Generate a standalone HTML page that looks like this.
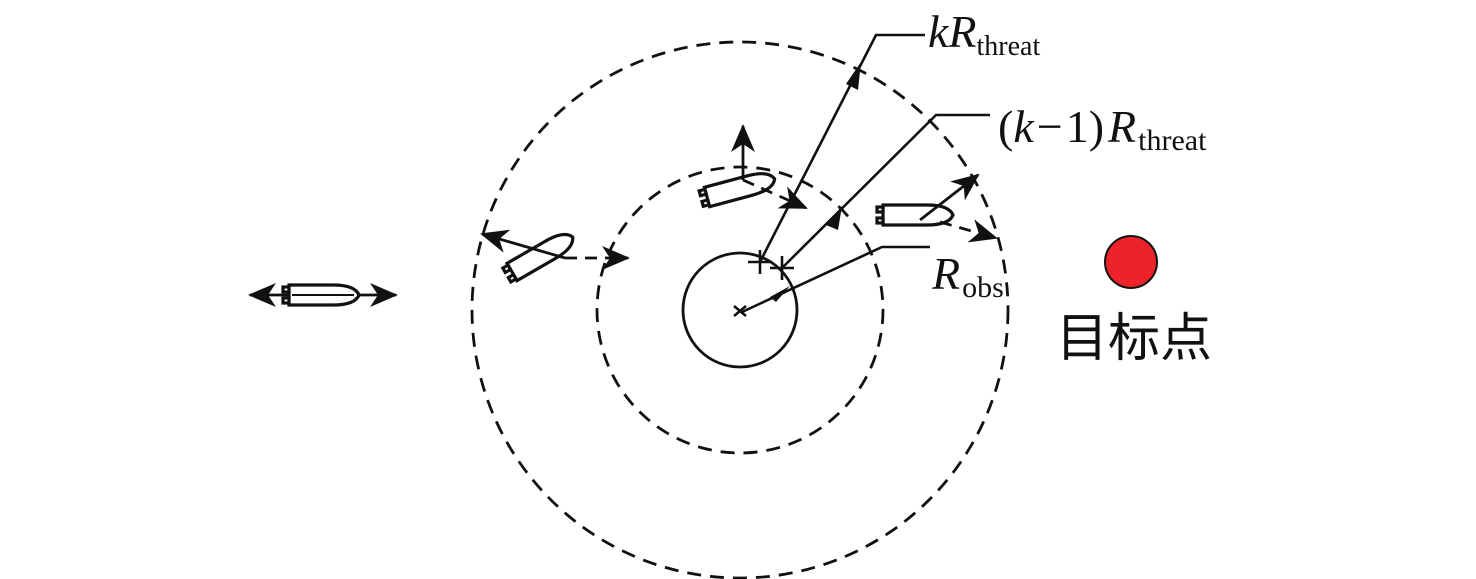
<!DOCTYPE html>
<html><head><meta charset="utf-8"><style>body{margin:0;background:#fff}svg{display:block}</style></head><body>
<svg width="1476" height="579" viewBox="0 0 1476 579" xmlns="http://www.w3.org/2000/svg">
<defs>
<marker id="b" markerWidth="28" markerHeight="24" refX="26" refY="12" orient="auto-start-reverse" markerUnits="userSpaceOnUse" viewBox="0 0 28 24"><path d="M0,0 L28,12 L0,24 L8,12z" fill="#111"/></marker>
<g id="ship" fill="#fff" stroke="#111" stroke-width="3.2">
<path d="M0,-10 L44,-10 Q66,-10 70,0 Q66,10 44,10 L0,10 Z"/>
<rect x="-6" y="-8" width="6" height="5"/><rect x="-6" y="3" width="6" height="5"/>
</g>
</defs>
<g fill="none" stroke="#111" stroke-width="2.8">
<circle cx="740" cy="310" r="57"/>
<circle cx="740" cy="310" r="143" stroke-dasharray="14,9"/>
<circle cx="740" cy="310" r="268" stroke-dasharray="14,9"/>
</g>
<g stroke="#111" stroke-width="2.6" fill="none">
<polyline points="760,262 876,35 925,35"/>
<polyline points="782,268 936,115 990,115"/>
<polyline points="742,312 882,247 930,247"/>
</g>
<path d="M846,84 L861,62 L858,90z" fill="#111"/>
<path d="M826,225 L842,206 L838,230z" fill="#111"/>
<path d="M770,297 L790,286 L776,302z" fill="#111"/>
<g stroke="#111" stroke-width="2.6">
<line x1="760" y1="250" x2="760" y2="274"/><line x1="748" y1="262" x2="772" y2="262"/>
<line x1="782" y1="256" x2="782" y2="280"/><line x1="770" y1="268" x2="794" y2="268"/>
<line x1="734" y1="306" x2="746" y2="316"/><line x1="734" y1="316" x2="746" y2="306"/>
</g>
<line x1="250" y1="295" x2="396" y2="295" stroke="#111" stroke-width="2.8" marker-start="url(#b)" marker-end="url(#b)"/>
<use href="#ship" transform="translate(289,295)"/>
<line x1="292" y1="295" x2="354" y2="295" stroke="#111" stroke-width="2"/>
<use href="#ship" transform="translate(512,272) rotate(-30)"/>
<line x1="565" y1="258" x2="482" y2="234" stroke="#111" stroke-width="2.8" marker-end="url(#b)"/>
<line x1="565" y1="258" x2="628" y2="258" stroke="#111" stroke-width="2.8" stroke-dasharray="12,8" marker-end="url(#b)"/>
<use href="#ship" transform="translate(707,197) rotate(-15)"/>
<line x1="743" y1="180" x2="743" y2="126" stroke="#111" stroke-width="2.8" marker-end="url(#b)"/>
<line x1="743" y1="180" x2="806" y2="208" stroke="#111" stroke-width="2.8" stroke-dasharray="12,8" marker-end="url(#b)"/>
<use href="#ship" transform="translate(883,215)"/>
<line x1="920" y1="220" x2="978" y2="175" stroke="#111" stroke-width="2.8" marker-end="url(#b)"/>
<line x1="940" y1="222" x2="996" y2="238" stroke="#111" stroke-width="2.8" stroke-dasharray="12,8" marker-end="url(#b)"/>
<circle cx="1131" cy="262" r="26" fill="#ee2229" stroke="#111" stroke-width="2"/>
<g font-family="Liberation Serif, serif" fill="#111">
<text x="928" y="47" font-size="46"><tspan font-style="italic">kR</tspan><tspan font-size="28" dy="8">threat</tspan></text>
<text x="998" y="142" font-size="46">(<tspan font-style="italic">k</tspan><tspan dx="3">−</tspan><tspan dx="3">1)</tspan><tspan dx="4" font-style="italic">R</tspan><tspan font-size="30" dy="8" dx="2">threat</tspan></text>
<text x="932" y="289" font-size="46"><tspan font-style="italic">R</tspan><tspan font-size="30" dy="8" dx="2">obs</tspan></text>
</g>
<text x="1056" y="356" font-size="52" font-family="Liberation Sans, Noto Sans CJK SC, sans-serif" fill="#111">目标点</text>
</svg>
</body></html>
